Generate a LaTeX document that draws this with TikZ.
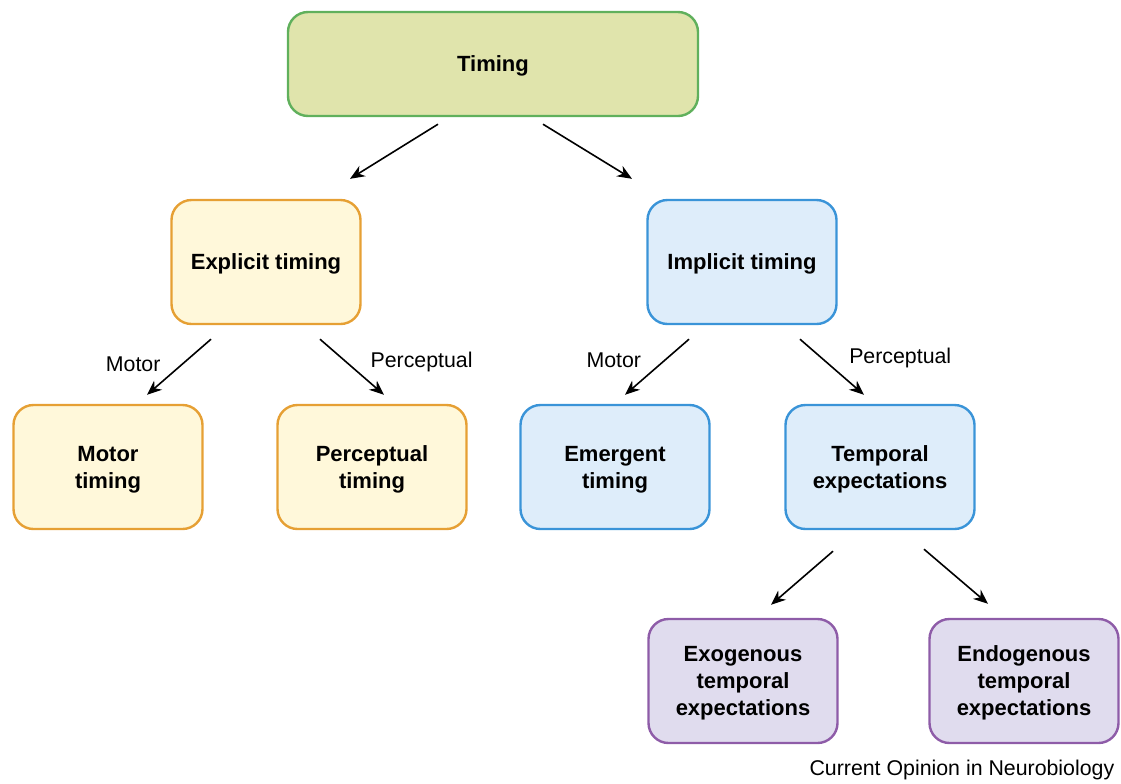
\documentclass[tikz,border=0pt]{standalone}
\usepackage{fontspec}
\setmainfont{Liberation Sans}
\usetikzlibrary{arrows.meta}
\definecolor{rootfill}{RGB}{224,228,172}
\definecolor{rootline}{RGB}{96,176,92}
\definecolor{explfill}{RGB}{255,248,218}
\definecolor{explline}{RGB}{230,160,52}
\definecolor{implfill}{RGB}{222,237,250}
\definecolor{implline}{RGB}{58,148,216}
\definecolor{expfill}{RGB}{224,220,238}
\definecolor{expline}{RGB}{142,92,168}
\begin{document}
\begin{tikzpicture}[x=0.75pt,y=-0.75pt,
  box/.style={draw,rounded corners=15pt,line width=1.8pt,align=center,
    minimum width=141.75pt,minimum height=93pt,text depth=0pt,
    font=\fontsize{16.5}{20.25}\selectfont\bfseries},
  arr/.style={-{Stealth[length=11pt,width=9pt,inset=3.5pt]},line width=1.2pt},
  lbl/.style={font=\fontsize{16}{19}\selectfont}]
\useasboundingbox (0,0) rectangle (1121,783);
\node [box,fill=rootfill,draw=rootline,minimum width=307.5pt,minimum height=78pt] (timing) at (493,64) {Timing};
\node [box,fill=explfill,draw=explline] (expl) at (266,262) {Explicit timing};
\node [box,fill=implfill,draw=implline] (impl) at (742,262) {Implicit timing};
\node [box,fill=explfill,draw=explline] (motor) at (108,467) {Motor\\timing};
\node [box,fill=explfill,draw=explline] (perc) at (372,467) {Perceptual\\timing};
\node [box,fill=implfill,draw=implline] (emer) at (615,467) {Emergent\\timing};
\node [box,fill=implfill,draw=implline] (temp) at (880,467) {Temporal\\expectations};
\node [box,fill=expfill,draw=expline] (exo) at (743,681) {Exogenous\\temporal\\expectations};
\node [box,fill=expfill,draw=expline] (endo) at (1024,681) {Endogenous\\temporal\\expectations};
\node [lbl,anchor=east] (journal) at (1119,770) {Current Opinion in Neurobiology};
\draw [arr] ([shift={(-55,7)}]timing.south) -- ([shift={(84,-20)}]expl.north);
\draw [arr] ([shift={(50,7)}]timing.south) -- ([shift={(-110,-20)}]impl.north);
\draw [arr] ([shift={(-55,14)}]expl.south) -- node [lbl,left=10pt,yshift=2pt] {Motor} ([shift={(39,-9)}]motor.north);
\draw [arr] ([shift={(54,14)}]expl.south) -- node [lbl,right=10pt,yshift=4pt] {Perceptual} ([shift={(12,-9)}]perc.north);
\draw [arr] ([shift={(-53,14)}]impl.south) -- node [lbl,left=8pt,yshift=5pt] {Motor} ([shift={(10,-9)}]emer.north);
\draw [arr] ([shift={(58,14)}]impl.south) -- node [lbl,right=9pt,yshift=7pt] {Perceptual} ([shift={(-16,-9)}]temp.north);
\draw [arr] ([shift={(-47,21)}]temp.south) -- ([shift={(28,-13)}]exo.north);
\draw [arr] ([shift={(44,19)}]temp.south) -- ([shift={(-36,-14)}]endo.north);
\end{tikzpicture}
\end{document}
